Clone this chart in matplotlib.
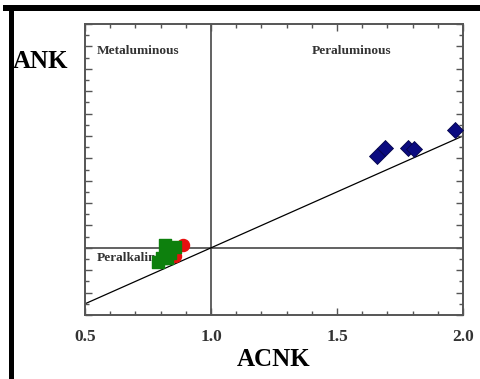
import numpy as np
import matplotlib
matplotlib.use('Agg')
import matplotlib.pyplot as plt
from matplotlib.patches import Rectangle
from matplotlib.ticker import MultipleLocator, NullFormatter

# peraluminous samples (blue diamonds)
blue_acnk = [1.66, 1.69, 1.78, 1.805, 1.97]
blue_ank = [1.82, 1.89, 1.89, 1.88, 2.05]

# red circles
red_acnk = [0.89, 0.857]
red_ank = [1.025, 0.925]

# green squares
green_acnk = [0.817, 0.857, 0.837, 0.806, 0.79, 0.825]
green_ank = [1.025, 1.005, 0.95, 0.91, 0.875, 0.905]

plt.rcParams['font.family'] = ['Liberation Serif', 'DejaVu Serif']
W, H = 481, 379
fig = plt.figure(figsize=(W / 100, H / 100), dpi=100)
ax = fig.add_axes([85 / W, 1 - 315 / H, (463 - 85) / W, (315 - 24) / H])

gray = '#555555'
ax.set_xlim(0.5, 2.0)
ax.set_ylim(0.4, 3.0)

# boundary lines
ax.axvline(1.0, color=gray, lw=1.3, zorder=1)
ax.axhline(1.0, color=gray, lw=1.3, zorder=1)
xx = np.array([0.5, 2.0])
ax.plot(xx, xx, color='black', lw=0.9, zorder=1)

# region labels
lab = dict(fontsize=9.6, fontweight='bold', color='#333333', va='center', zorder=2)
ax.text(0.548, 2.755, 'Metaluminous', ha='left', **lab)
ax.text(1.40, 2.755, 'Peraluminous', ha='left', **lab)
ax.text(0.548, 0.91, 'Peralkaline', ha='left', **lab)

ax.scatter(red_acnk, red_ank, marker='o', s=75, color='#e8100f', zorder=3)
ax.scatter(green_acnk, green_ank, marker='s', s=68, color='#0d800d', zorder=4)
ax.scatter(blue_acnk, blue_ank, marker='D', s=66, color='#0b0b80',
           edgecolor='#05054a', linewidth=0.6, zorder=4)

ax.xaxis.set_major_locator(MultipleLocator(0.5))
ax.xaxis.set_minor_locator(MultipleLocator(0.1))
ax.yaxis.set_major_locator(MultipleLocator(0.2))
ax.yaxis.set_minor_locator(MultipleLocator(0.1))
ax.yaxis.set_major_formatter(NullFormatter())
ax.tick_params(which='both', direction='in', top=True, right=True,
               color=gray, width=1.0)
ax.tick_params(which='major', length=5)
ax.tick_params(which='minor', length=3)
ax.tick_params(axis='x', pad=10, labelsize=12.5, labelcolor='#333333')
ax.set_xticks([0.5, 1.0, 1.5, 2.0])
ax.set_xticklabels(['0.5', '1.0', '1.5', '2.0'], fontweight='bold')
for sp in ax.spines.values():
    sp.set_color(gray)
    sp.set_linewidth(1.4)

fig.text(13 / W, 1 - 62 / H, 'ANK', fontsize=18, fontweight='bold',
         ha='left', va='center')
fig.text(274 / W, 1 - 360 / H, 'ACNK', fontsize=18, fontweight='bold',
         ha='center', va='center')

# black frame bars at top and left
fig.add_artist(Rectangle((3 / W, 1 - 11 / H), (W - 3) / W, 6 / H,
                         transform=fig.transFigure, color='black', lw=0))
fig.add_artist(Rectangle((9 / W, 0), 4.5 / W, 1 - 5 / H,
                         transform=fig.transFigure, color='black', lw=0))

fig.savefig('out.png', dpi=100)
